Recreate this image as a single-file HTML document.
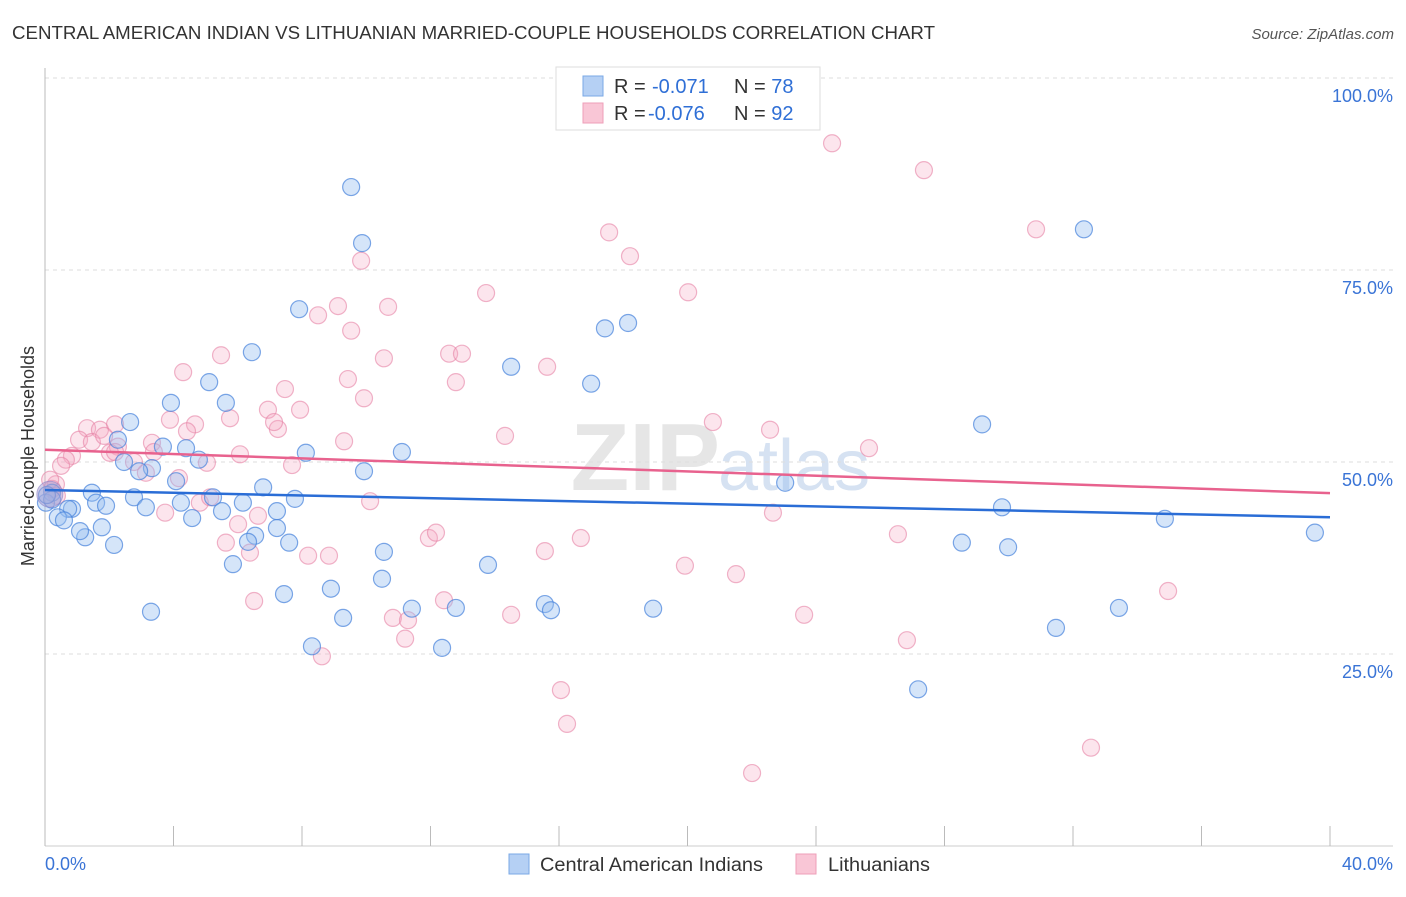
<!DOCTYPE html>
<html><head><meta charset="utf-8"><style>
body{margin:0;background:#fff;font-family:"Liberation Sans",sans-serif;}
svg text{font-family:"Liberation Sans",sans-serif;}
</style></head><body>
<svg id="chart" width="1406" height="892" xmlns="http://www.w3.org/2000/svg">
<text x="12" y="39" font-size="18" fill="#333" textLength="923" lengthAdjust="spacingAndGlyphs">CENTRAL AMERICAN INDIAN VS LITHUANIAN MARRIED-COUPLE HOUSEHOLDS CORRELATION CHART</text>
<text x="1394" y="39" font-size="15" fill="#555" font-style="italic" text-anchor="end">Source: ZipAtlas.com</text>
<text x="720" y="490" font-size="96" fill="#e6e6e6" text-anchor="end" font-family="Liberation Serif" font-weight="bold">ZIP</text>
<text x="718" y="490" font-size="72" fill="#d6e2f2">atlas</text>
<g id="grid"></g>
<g id="axes"></g>
<g id="marks"></g>
<g id="trend"></g>
<text transform="translate(34,456) rotate(-90)" font-size="18" fill="#333" text-anchor="middle">Married-couple Households</text>
<g>
<rect x="556" y="67" width="264" height="63" fill="#fff" stroke="#ddd"/>
<rect x="583" y="76" width="20" height="20" fill="#b5d0f4" stroke="#7aa8e6"/>
<rect x="583" y="103" width="20" height="20" fill="#f9c6d6" stroke="#ee9fb8"/>
<text x="614" y="93" font-size="20" fill="#333">R = <tspan x="652" fill="#2f6fd6">-0.071</tspan><tspan x="734">N = </tspan><tspan fill="#2f6fd6">78</tspan></text>
<text x="614" y="120" font-size="20" fill="#333">R = <tspan x="648" fill="#2f6fd6">-0.076</tspan><tspan x="734">N = </tspan><tspan fill="#2f6fd6">92</tspan></text>
</g>
<g>
<rect x="509" y="854" width="20" height="20" fill="#b5d0f4" stroke="#7aa8e6"/>
<text x="540" y="871" font-size="19" fill="#333" textLength="223" lengthAdjust="spacingAndGlyphs">Central American Indians</text>
<rect x="796" y="854" width="20" height="20" fill="#f9c6d6" stroke="#ee9fb8"/>
<text x="828" y="871" font-size="19" fill="#333" textLength="102" lengthAdjust="spacingAndGlyphs">Lithuanians</text>
</g>
</svg>
<script>
const yTicks=[25,50,75,100];
const yTickLabels=["25.0%","50.0%","75.0%","100.0%"];
const xTicks=[0,4,8,12,16,20,24,28,32,36,40];
const xEndLabels=["0.0%","40.0%"];
const blueX=[9.53,9.87,32.34,7.91,17.43,18.15,6.44,5.11,14.51,17.0,3.92,5.63,2.65,29.17,2.27,3.67,4.39,11.11,8.12,3.33,4.79,2.93,2.46,9.93,4.08,6.79,23.04,1.46,2.77,5.23,7.78,0.22,0.03,1.59,1.90,3.14,4.23,6.16,7.22,5.51,0.84,0.72,0.40,0.59,4.58,29.79,34.86,1.77,1.25,1.09,7.22,6.54,2.15,7.60,6.32,10.55,28.54,29.98,39.53,5.85,13.79,10.49,8.90,7.44,3.30,11.42,12.79,15.56,15.75,18.93,33.43,9.28,31.47,8.31,12.36,27.18,0.22,0.06];
const blueY=[85.8,78.5,80.3,69.9,67.4,68.1,64.3,60.4,62.4,60.2,57.7,57.7,55.2,54.9,52.9,52.0,51.8,51.3,51.2,49.2,50.3,48.8,50.0,48.8,47.5,46.7,47.3,46.0,45.4,45.4,45.2,46.0,44.7,44.7,44.3,44.1,44.7,44.7,43.6,43.6,43.9,43.9,42.8,42.4,42.7,44.1,42.6,41.5,40.2,41.0,41.4,40.4,39.2,39.5,39.6,38.3,39.5,38.9,40.8,36.7,36.6,34.8,33.5,32.8,30.5,30.9,31.0,31.5,30.7,30.9,31.0,29.7,28.4,26.0,25.8,20.4,45.1,45.7];
const pinkX=[24.50,27.36,30.85,17.56,18.21,9.84,13.73,20.02,9.12,10.68,8.50,9.53,5.48,10.55,12.58,12.98,4.30,9.43,12.79,15.63,7.47,9.93,6.94,7.94,5.76,4.67,3.89,1.31,2.18,1.71,7.25,7.13,20.79,22.57,14.32,9.31,1.06,1.46,1.84,3.33,6.07,4.42,25.65,2.27,2.02,0.84,0.65,0.50,3.39,2.77,5.04,7.69,3.14,4.17,0.34,0.37,0.22,10.12,4.82,3.74,6.63,6.01,22.66,26.55,11.95,12.17,16.68,5.63,6.38,8.19,8.84,15.56,19.92,21.51,34.96,12.42,6.51,10.83,11.30,14.51,23.63,11.21,26.83,8.62,16.06,16.25,22.01,32.56,0.16,5.14,2.18];
const pinkY=[91.5,88.0,80.3,79.9,76.8,76.2,72.0,72.1,70.3,70.2,69.1,67.1,63.9,63.5,64.1,64.1,61.7,60.8,60.4,62.4,59.5,58.3,56.8,56.8,55.7,54.9,55.5,54.4,54.9,54.2,54.3,55.2,55.2,54.2,53.4,52.7,52.9,52.6,53.4,52.5,51.0,54.0,51.8,52.0,51.2,50.8,50.3,49.5,51.3,50.0,49.9,49.6,48.6,47.9,47.1,45.6,46.5,44.9,44.7,43.4,43.0,41.9,43.4,40.6,40.1,40.8,40.1,39.5,38.2,37.8,37.8,38.4,36.5,35.4,33.2,32.0,31.9,29.7,29.4,30.1,30.1,27.0,26.8,24.7,20.3,15.9,9.5,12.8,47.7,45.4,51.3];
const trendBlue=[46.35,42.8];
const trendPink=[51.6,45.95];
const X0=45,X1=1330,Y0=846,YTOP=78;
const xs=v=>X0+(v/40)*(X1-X0);
const ys=v=>Y0-(v/100)*(Y0-YTOP);
const NS="http://www.w3.org/2000/svg";
function mk(tag,attrs,parent){const e=document.createElementNS(NS,tag);for(const k in attrs)e.setAttribute(k,attrs[k]);parent.appendChild(e);return e;}
const grid=document.getElementById('grid'),axes=document.getElementById('axes'),marks=document.getElementById('marks'),trend=document.getElementById('trend');
yTicks.forEach((t,i)=>{
  const l=mk('line',{x1:X0,x2:1393,y1:ys(t),y2:ys(t),stroke:'#ddd','stroke-dasharray':'4,4'},grid);
  
  
  const tx=mk('text',{x:1393,y:ys(t)+24,'font-size':18,fill:'#3a74d6','text-anchor':'end'},axes);
  tx.textContent=yTickLabels[i];
  
  
});
const ax=mk('line',{x1:X0,x2:X0,y1:68,y2:Y0,stroke:'#bbb'},axes);


const bx=mk('line',{x1:X0,x2:1393,y1:Y0,y2:Y0,stroke:'#ccc'},axes);


xTicks.forEach(t=>{
  const l=mk('line',{x1:xs(t),x2:xs(t),y1:826,y2:Y0,stroke:'#bbb'},axes);
  
  
});
const xl0=mk('text',{x:45,y:870,'font-size':18,fill:'#3a74d6'},axes);xl0.textContent=xEndLabels[0];


const xl1=mk('text',{x:1393,y:870,'font-size':18,fill:'#3a74d6','text-anchor':'end'},axes);xl1.textContent=xEndLabels[1];


pinkX.forEach((v,i)=>{
  const c=mk('circle',{cx:xs(v),cy:ys(pinkY[i]),r:8.5,fill:'rgba(244,170,195,0.3)',stroke:'rgba(230,130,165,0.6)','stroke-width':1.2},marks);
  
  
});
blueX.forEach((v,i)=>{
  const c=mk('circle',{cx:xs(v),cy:ys(blueY[i]),r:8.5,fill:'rgba(150,190,240,0.4)',stroke:'rgba(70,130,220,0.7)','stroke-width':1.2},marks);
  
  
});
const big=mk('circle',{cx:xs(0.15),cy:ys(45.8),r:13,fill:'rgba(170,160,210,0.5)',stroke:'rgba(140,130,200,0.6)'},marks);


const tb=mk('line',{x1:xs(0),y1:ys(trendBlue[0]),x2:xs(40),y2:ys(trendBlue[1]),stroke:'#2a6dd6','stroke-width':2.5},trend);


const tp=mk('line',{x1:xs(0),y1:ys(trendPink[0]),x2:xs(40),y2:ys(trendPink[1]),stroke:'#e8628e','stroke-width':2.5},trend);


</script>
</body></html>
